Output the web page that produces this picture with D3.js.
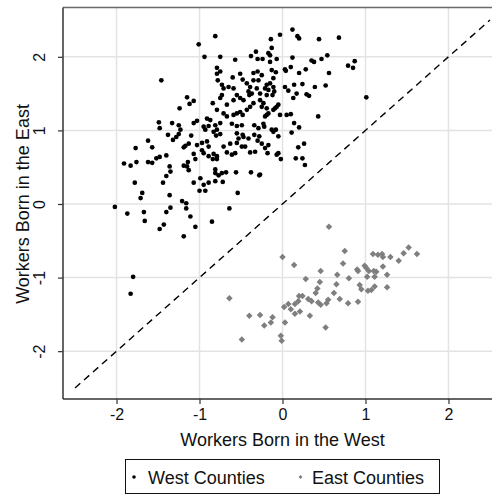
<!DOCTYPE html>
<html>
<head>
<meta charset="utf-8">
<script src="https://cdn.jsdelivr.net/npm/d3@7"></script>
<style>
  html, body { margin: 0; padding: 0; background: #fff; }
  svg { display: block; font-family: "Liberation Sans", Arial, Helvetica, sans-serif; }
</style>
</head>
<body>
<svg id="chart" width="492" height="496"></svg>
<script>
// ---- data ----
const westCounties = [
[-0.81,2.28],[-1.01,2.17],[-0.03,2.30],[-0.14,2.24],[-0.94,2.00],[-0.75,2.00],[-0.57,1.96],[-0.38,2.01],[-0.32,2.07],[-0.30,1.97],
[-0.24,1.97],[-0.17,2.05],[-0.13,2.12],[-0.15,1.93],[-0.79,1.85],[-0.75,1.80],[-0.79,1.77],[-1.46,1.68],[-0.60,1.72],[-0.51,1.77],
[-0.48,1.69],[-0.35,1.78],[-0.30,1.80],[-0.25,1.75],[-0.29,1.68],[-0.35,1.68],[-0.13,1.82],[-0.11,1.71],[-0.15,1.64],[-0.73,1.62],
[-0.71,1.57],[-0.65,1.59],[-0.59,1.57],[-0.43,1.64],[-0.39,1.59],[-0.41,1.53],[-0.37,1.50],[-0.31,1.57],[-0.27,1.50],[-0.21,1.57],
[-0.17,1.55],[-0.19,1.48],[-1.15,1.45],[-1.07,1.40],[-1.12,1.36],[-1.24,1.30],[-0.84,1.37],[-0.67,1.35],[-0.59,1.41],[-0.55,1.48],
[-0.51,1.44],[-0.47,1.41],[-0.79,1.28],[-0.71,1.23],[-0.67,1.19],[-0.59,1.21],[-0.55,1.23],[-0.51,1.25],[-0.48,1.21],[-0.43,1.28],
[-0.39,1.32],[-0.35,1.37],[-0.27,1.41],[-0.23,1.37],[-0.19,1.30],[-0.11,1.28],[-0.07,1.32],[-1.49,1.11],[-1.33,1.10],[-1.25,1.07],
[-1.07,1.10],[-1.03,1.13],[-0.91,1.16],[-0.87,1.14],[-0.95,1.05],[-0.81,1.07],[-0.75,1.10],
[0.12,2.37],[0.18,2.28],[0.20,2.25],[0.44,2.24],[0.68,2.26],[-0.15,2.02],[-0.07,1.97],[0.12,1.99],[0.35,1.95],[0.38,1.93],
[0.47,1.97],[0.54,2.02],[0.79,1.88],[0.85,1.85],[0.87,1.94],[-0.08,1.79],[0.03,1.83],[0.04,1.81],[0.10,1.86],[0.20,1.78],
[0.28,1.83],[0.56,1.78],[-0.19,1.62],[-0.11,1.59],[-0.10,1.53],[-0.12,1.48],[0.03,1.59],[0.07,1.54],[0.14,1.62],[0.24,1.63],
[0.39,1.59],[0.52,1.61],[0.17,1.50],[0.13,1.44],[0.29,1.49],[0.32,1.47],[1.01,1.45],[-0.05,1.35],[-0.09,1.30],[-0.19,1.21],
[-0.21,1.19],[-0.17,1.23],[-0.03,1.21],[0.05,1.21],[0.10,1.22],[0.43,1.19],[0.14,1.10],[0.20,1.04],[-0.13,1.01],[-0.08,1.01],
[-0.25,1.32],[-0.23,1.09],[-0.22,1.05],[0.11,0.97],[-0.11,0.98],[-0.05,0.92],[-0.25,0.82],[-0.17,0.80],[-0.21,0.76],[-0.18,0.69],
[-0.07,0.67],[-0.05,0.69],[-0.02,0.61],[0.19,0.77],[0.26,0.82],[0.16,0.62],[0.24,0.62],[0.27,0.53],[-0.27,0.40],
[-1.48,1.03],[-1.23,1.01],[-0.93,1.01],[-0.83,0.98],[-0.79,1.01],[-0.75,0.95],[-0.80,0.93],[-0.61,1.09],[-0.55,1.06],[-0.49,1.07],
[-0.55,0.96],[-0.48,0.94],[-0.53,0.89],[-0.47,0.91],[-0.41,0.89],[-0.34,1.07],[-0.29,1.03],[-0.34,0.94],[-0.28,0.92],[-0.30,0.86],
[-1.38,0.94],[-1.32,0.87],[-1.28,0.91],[-1.25,0.95],[-1.10,0.93],[-1.62,0.86],[-1.57,0.77],[-1.77,0.76],[-1.91,0.55],[-1.83,0.52],
[-1.76,0.57],[-1.62,0.57],[-1.57,0.56],[-1.52,0.62],[-1.48,0.64],[-1.40,0.66],[-1.19,0.77],[-1.13,0.82],[-1.17,0.79],[-1.03,0.80],
[-0.97,0.83],[-0.91,0.85],[-0.89,0.78],[-1.07,0.68],[-0.97,0.73],[-0.95,0.69],[-0.89,0.65],[-0.83,0.68],[-0.79,0.65],[-0.84,0.61],
[-0.79,0.61],[-0.71,0.78],[-0.67,0.70],[-0.61,0.67],[-0.57,0.69],[-0.63,0.82],[-0.55,0.83],[-0.49,0.78],[-0.45,0.78],[-0.39,0.70],
[-0.33,0.71],[-1.05,0.61],[-1.14,0.57],[-1.19,0.52],[-1.15,0.51],[-1.13,0.46],[-1.36,0.51],[-1.35,0.44],[-1.40,0.38],[-1.44,0.29],
[-1.78,0.29],[-1.69,0.15],[-1.71,0.08],[-1.36,0.12],[-1.07,0.29],[-0.99,0.35],[-0.95,0.26],[-1.00,0.18],[-0.93,0.18],[-0.81,0.47],
[-0.81,0.42],[-0.77,0.39],[-0.73,0.42],[-0.68,0.43],[-0.89,0.29],[-0.81,0.31],[-0.72,0.30],[-0.56,0.43],[-0.38,0.43],[-0.28,0.39],
[-0.54,0.15],[-2.02,-0.04],[-1.87,-0.13],[-1.67,-0.11],[-1.66,-0.23],[-1.40,-0.11],[-1.35,-0.05],[-1.21,0.04],[-1.16,0.01],[-1.16,-0.06],
[-1.11,-0.17],[-1.48,-0.34],[-1.43,-0.28],[-1.19,-0.44],[-1.05,-0.31],[-0.85,-0.24],[-0.64,-0.06],[-1.80,-0.99],[-1.83,-1.22],
[-0.89,1.06],[-0.78,1.68],[-0.40,1.48],[-0.73,1.48],[-0.75,1.44]
];

const eastCounties = [
[0.56,-0.31],[0.75,-0.64],[1.52,-0.59],[0.00,-0.72],[0.14,-0.83],[0.73,-0.81],[1.09,-0.68],[1.15,-0.69],[1.20,-0.68],[1.21,-0.72],
[1.30,-0.72],[1.40,-0.77],[1.46,-0.67],[1.62,-0.68],[0.28,-1.02],[0.46,-0.91],[0.45,-1.06],[0.66,-0.96],[0.65,-1.09],[0.80,-1.01],
[0.90,-0.89],[0.91,-0.91],[0.99,-0.84],[1.01,-0.87],[1.04,-0.91],[1.10,-0.91],[1.13,-0.92],[1.21,-0.85],[1.02,-0.99],[1.11,-0.99],
[1.26,-0.96],[0.93,-1.10],[0.95,-1.16],[1.03,-1.18],[1.07,-1.17],[1.11,-1.12],[1.26,-1.13],[0.42,-1.15],[0.40,-1.21],[0.62,-1.21],
[0.69,-1.29],[0.79,-1.35],[0.91,-1.33],[0.20,-1.25],[0.24,-1.25],[0.19,-1.32],[0.15,-1.36],[0.31,-1.29],[0.35,-1.32],[0.43,-1.34],
[0.46,-1.37],[0.53,-1.35],[0.55,-1.30],[0.02,-1.40],[0.07,-1.36],[0.10,-1.43],[0.15,-1.49],[0.21,-1.46],[0.33,-1.52],[0.52,-1.68],
[-0.27,-1.51],[-0.22,-1.65],[-0.14,-1.61],[-0.12,-1.54],[0.03,-1.61],[-0.02,-1.79],[-0.01,-1.86],[-0.64,-1.28],[-0.40,-1.52],[-0.49,-1.84]
];

const xTicks = [-2, -1, 0, 1, 2];
const yTicks = [-2, -1, 0, 1, 2];
const diagonal = [[-2.5, -2.5], [2.5, 2.5]];
const xTitle = "Workers Born in the West";
const yTitle = "Workers Born in the East";
const legendLabels = ["West Counties", "East Counties"];

// ---- layout ----
const svg = d3.select("#chart");
const pLeft = 63, pRight = 502, pTop = 7.5, pBottom = 399;

const x = d3.scaleLinear().domain([-2.645, 2.645]).range([pLeft, pRight]);
const y = d3.scaleLinear().domain([-2.65, 2.67]).range([pBottom, pTop]);

const plot = svg.append("g");

// grid
plot.selectAll("line.vgrid").data(xTicks).enter().append("line")
  .attr("x1", d => x(d)).attr("x2", d => x(d)).attr("y1", pTop).attr("y2", pBottom)
  .attr("stroke", "#e3e3e3").attr("stroke-width", 1.5);
plot.selectAll("line.hgrid").data(yTicks).enter().append("line")
  .attr("y1", d => y(d)).attr("y2", d => y(d)).attr("x1", pLeft).attr("x2", pRight)
  .attr("stroke", "#e3e3e3").attr("stroke-width", 1.5);

// top frame line
plot.append("line").attr("x1", pLeft).attr("x2", pRight).attr("y1", pTop).attr("y2", pTop)
  .attr("stroke", "#6a6a6a").attr("stroke-width", 1.3);

// diagonal
plot.append("path")
  .attr("d", d3.line().x(d => x(d[0])).y(d => y(d[1]))(diagonal))
  .attr("fill", "none").attr("stroke", "#000").attr("stroke-width", 1.4)
  .attr("stroke-dasharray", "7,5");

// west points
plot.selectAll("circle.west").data(westCounties).enter().append("circle")
  .attr("cx", d => x(d[0])).attr("cy", d => y(d[1])).attr("r", 2.35).attr("fill", "#000");

// east points
const diamond = d3.symbol().type(d3.symbolDiamond2).size(27);
plot.selectAll("path.east").data(eastCounties).enter().append("path")
  .attr("d", diamond)
  .attr("transform", d => `translate(${x(d[0])},${y(d[1])})`)
  .attr("fill", "#7f7f7f");

// axes
const fmt = d => d < 0 ? "-" + Math.abs(d) : String(d);
const xAxis = d3.axisBottom(x).tickValues(xTicks).tickSize(5).tickPadding(4).tickFormat(fmt);
const gx = svg.append("g").attr("transform", `translate(0,${pBottom})`).call(xAxis);
gx.select(".domain").attr("stroke", "#333").attr("stroke-width", 1.5).attr("d", `M${pLeft},0H${pRight}`);
gx.selectAll(".tick line").attr("stroke", "#333").attr("stroke-width", 1.2);
gx.selectAll(".tick text").attr("font-size", 16).attr("fill", "#111")
  .attr("font-family", "'Liberation Sans', Arial, sans-serif").attr("y", 10).attr("dy", "0.71em");

const yAxis = d3.axisLeft(y).tickValues(yTicks).tickSize(5).tickFormat(fmt);
const gy = svg.append("g").attr("transform", `translate(${pLeft},0)`).call(yAxis);
gy.select(".domain").attr("stroke", "#333").attr("stroke-width", 1.5).attr("d", `M0,${pTop}V${pBottom}`);
gy.selectAll(".tick line").attr("stroke", "#333").attr("stroke-width", 1.2);
gy.selectAll(".tick text")
  .attr("font-size", 16).attr("fill", "#111")
  .attr("font-family", "'Liberation Sans', Arial, sans-serif")
  .attr("x", null).attr("dy", null)
  .attr("text-anchor", "middle")
  .attr("transform", "translate(-18,0) rotate(-90)");

// titles
svg.append("text").attr("x", (pLeft + pRight) / 2).attr("y", 445.5)
  .attr("text-anchor", "middle").attr("font-size", 18).attr("fill", "#111").text(xTitle);
svg.append("text").attr("transform", `translate(28.5,${y(0)}) rotate(-90)`)
  .attr("text-anchor", "middle").attr("font-size", 18).attr("fill", "#111").text(yTitle);

// legend
const lg = svg.append("g");
lg.append("rect").attr("x", 125.5).attr("y", 459.5).attr("width", 314).attr("height", 34)
  .attr("fill", "#fff").attr("stroke", "#111").attr("stroke-width", 1);
lg.append("circle").attr("cx", 134).attr("cy", 477).attr("r", 1.8).attr("fill", "#000");
lg.append("text").attr("x", 148).attr("y", 484).attr("font-size", 18).attr("fill", "#111").text(legendLabels[0]);
lg.append("path").attr("d", d3.symbol().type(d3.symbolDiamond2).size(10))
  .attr("transform", "translate(300.5,477)").attr("fill", "#7f7f7f");
lg.append("text").attr("x", 312).attr("y", 484).attr("font-size", 18).attr("fill", "#111").text(legendLabels[1]);
</script>
</body>
</html>
